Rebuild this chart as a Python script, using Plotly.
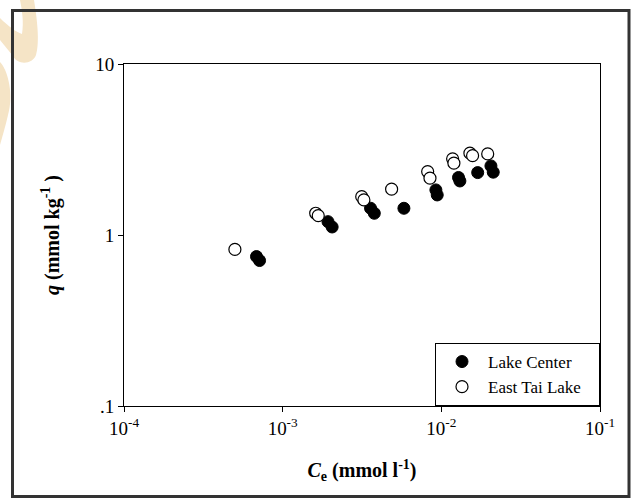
import plotly.graph_objects as go

# Lake Center (filled circles)
lc_ce = [6.84e-4, 7.15e-4, 1.93e-3, 2.05e-3, 3.58e-3, 3.78e-3, 5.81e-3,
         9.24e-3, 9.42e-3, 1.283e-2, 1.309e-2, 1.695e-2, 2.054e-2, 2.124e-2]
lc_q = [0.748, 0.709, 1.197, 1.114, 1.434, 1.34, 1.433,
        1.835, 1.715, 2.17, 2.07, 2.317, 2.536, 2.33]

# East Tai Lake (open circles)
et_ce = [5.0e-4, 1.615e-3, 1.676e-3, 3.15e-3, 3.25e-3, 4.86e-3, 8.2e-3,
         8.48e-3, 1.178e-2, 1.20e-2, 1.514e-2, 1.574e-2, 1.96e-2]
et_q = [0.824, 1.34, 1.297, 1.676, 1.604, 1.853, 2.35,
        2.15, 2.79, 2.63, 3.01, 2.91, 2.98]

x_tickvals = [1e-4, 1e-3, 1e-2, 1e-1]
x_ticktext = ["10<sup>-4</sup>", "10<sup>-3</sup>", "10<sup>-2</sup>", "10<sup>-1</sup>"]
y_tickvals = [0.1, 1, 10]
y_ticktext = [".1", "1", "10"]

W, H = 631, 498
ML, MR, MT, MB = 124, 31, 64, 92
PW, PH = W - ML - MR, H - MT - MB


def px(x):
    return (x - ML) / PW


def py(y):
    return (H - MB - y) / PH


def path(cmds):
    out = []
    for c in cmds:
        if isinstance(c, str):
            out.append(c)
        else:
            out.append(f"{px(c[0]):.4f},{py(c[1]):.4f}")
    return " ".join(out)


FONT = "Liberation Serif, Times New Roman, serif"

fig = go.Figure()
fig.add_trace(go.Scatter(
    x=lc_ce, y=lc_q, mode="markers", name="Lake Center&nbsp;&nbsp;&nbsp;",
    marker=dict(symbol="circle", size=12, color="black",
                line=dict(color="black", width=1)),
))
fig.add_trace(go.Scatter(
    x=et_ce, y=et_q, mode="markers", name="East Tai Lake&nbsp;&nbsp;&nbsp;",
    marker=dict(symbol="circle", size=12, color="white",
                line=dict(color="black", width=1.2)),
))

shapes = []
# watermark (decorative)
wm = "#F5E4C6"
shapes.append(dict(
    type="path", xref="paper", yref="paper", layer="below",
    fillcolor=wm, line=dict(width=0),
    path=path(["M", (20, 0), "L", (34, 0), "C", (37, 18), (40, 42), (36, 55),
               "C", (33, 64), (18, 66), (13, 56), "L", (0, 40), "L", (0, 18),
               "C", (8, 26), (16, 32), (22, 34), "C", (24, 22), (22, 10), (20, 0), "Z"]),
))
shapes.append(dict(
    type="path", xref="paper", yref="paper", layer="below",
    fillcolor=wm, line=dict(width=0),
    path=path(["M", (0, 62), "C", (8, 70), (14, 95), (8, 115),
               "C", (5, 128), (2, 138), (0, 145), "Z"]),
))
# outer frame
shapes.append(dict(
    type="rect", xref="paper", yref="paper",
    x0=px(12.5), x1=px(629), y0=py(496.5), y1=py(10.5),
    line=dict(color="#333333", width=3), fillcolor="rgba(0,0,0,0)",
))

fig.update_layout(
    width=W, height=H,
    margin=dict(l=ML, r=MR, t=MT, b=MB, pad=0),
    paper_bgcolor="white", plot_bgcolor="white",
    font=dict(family=FONT, color="black", size=19),
    showlegend=True,
    legend=dict(
        x=1, y=0, xanchor="right", yanchor="bottom",
        bgcolor="white", bordercolor="black", borderwidth=1,
        font=dict(family=FONT, size=17, color="black"),
        itemwidth=42, tracegroupgap=0,
    ),
    shapes=shapes,
)

fig.update_xaxes(
    type="log", range=[-4, -1],
    tickvals=x_tickvals, ticktext=x_ticktext,
    ticks="outside", ticklen=5, tickwidth=1, tickcolor="black",
    showline=True, linecolor="black", linewidth=1, mirror=True,
    showgrid=False, zeroline=False,
    tickfont=dict(family=FONT, size=19),
    title=dict(text="<b><i>C</i><sub>e</sub> (mmol l<sup>-1</sup>)</b>",
               font=dict(family=FONT, size=20), standoff=25),
)
fig.update_yaxes(
    type="log", range=[-1, 1],
    tickvals=y_tickvals, ticktext=y_ticktext,
    ticks="outside", ticklen=5, tickwidth=1, tickcolor="black",
    showline=True, linecolor="black", linewidth=1, mirror=True,
    showgrid=False, zeroline=False,
    tickfont=dict(family=FONT, size=19),
    title=dict(text="<b><i>q</i> (mmol kg<sup>-1</sup> )</b>",
               font=dict(family=FONT, size=20), standoff=30),
)

fig.write_html("out.html")
